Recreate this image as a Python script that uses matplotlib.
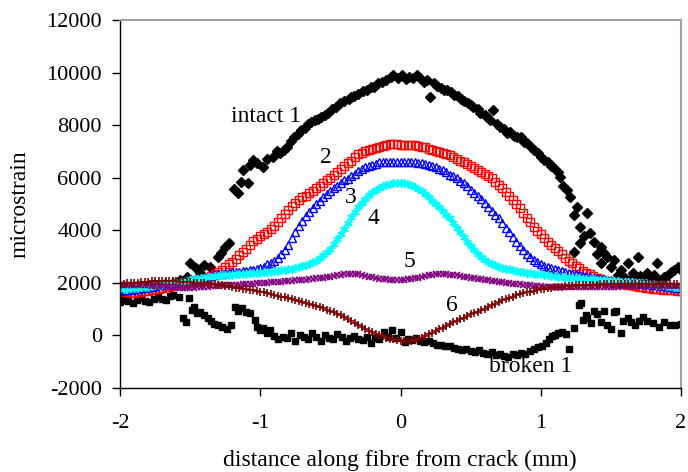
import matplotlib
matplotlib.use('Agg')
import matplotlib.pyplot as plt
import numpy as np

plt.rcParams['font.family'] = ['Liberation Serif', 'DejaVu Serif']
plt.rcParams['axes.unicode_minus'] = False

# distance grid of the smoothed runs (mm)
dist = [-2.000, -1.975, -1.950, -1.925, -1.900, -1.875, -1.850, -1.825, -1.800, -1.775,
        -1.750, -1.725, -1.700, -1.675, -1.650, -1.625, -1.600, -1.575, -1.550, -1.525,
        -1.500, -1.475, -1.450, -1.425, -1.400, -1.375, -1.350, -1.325, -1.300, -1.275,
        -1.250, -1.225, -1.200, -1.175, -1.150, -1.125, -1.100, -1.075, -1.050, -1.025,
        -1.000, -0.975, -0.950, -0.925, -0.900, -0.875, -0.850, -0.825, -0.800, -0.775,
        -0.750, -0.725, -0.700, -0.675, -0.650, -0.625, -0.600, -0.575, -0.550, -0.525,
        -0.500, -0.475, -0.450, -0.425, -0.400, -0.375, -0.350, -0.325, -0.300, -0.275,
        -0.250, -0.225, -0.200, -0.175, -0.150, -0.125, -0.100, -0.075, -0.050, -0.025,
        0.000, 0.025, 0.050, 0.075, 0.100, 0.125, 0.150, 0.175, 0.200, 0.225,
        0.250, 0.275, 0.300, 0.325, 0.350, 0.375, 0.400, 0.425, 0.450, 0.475,
        0.500, 0.525, 0.550, 0.575, 0.600, 0.625, 0.650, 0.675, 0.700, 0.725,
        0.750, 0.775, 0.800, 0.825, 0.850, 0.875, 0.900, 0.925, 0.950, 0.975,
        1.000, 1.025, 1.050, 1.075, 1.100, 1.125, 1.150, 1.175, 1.200, 1.225,
        1.250, 1.275, 1.300, 1.325, 1.350, 1.375, 1.400, 1.425, 1.450, 1.475,
        1.500, 1.525, 1.550, 1.575, 1.600, 1.625, 1.650, 1.675, 1.700, 1.725,
        1.750, 1.775, 1.800, 1.825, 1.850, 1.875, 1.900, 1.925, 1.950, 1.975, 2.000]

s2 = [1650, 1680, 1650, 1620, 1600, 1640, 1650, 1690, 1700, 1730,
      1750, 1770, 1800, 1830, 1850, 1880, 1900, 1930, 1950, 1980,
      2000, 2020, 2050, 2100, 2150, 2200, 2250, 2320, 2400, 2500,
      2600, 2700, 2800, 2920, 3050, 3180, 3300, 3450, 3580, 3680,
      3780, 3860, 3950, 4060, 4180, 4310, 4450, 4620, 4780, 4920,
      5050, 5150, 5250, 5320, 5400, 5500, 5600, 5700, 5800, 5900,
      6000, 6100, 6200, 6330, 6450, 6550, 6650, 6780, 6900, 6950,
      7000, 7050, 7100, 7140, 7180, 7220, 7250, 7280, 7300, 7270,
      7250, 7240, 7230, 7250, 7240, 7200, 7180, 7150, 7100, 7070,
      7030, 6990, 6950, 6900, 6850, 6780, 6700, 6640, 6580, 6520,
      6450, 6370, 6280, 6220, 6150, 6070, 5980, 5850, 5720, 5590,
      5450, 5300, 5150, 5000, 4850, 4670, 4480, 4300, 4130, 3990,
      3850, 3700, 3560, 3440, 3320, 3200, 3080, 2960, 2850, 2750,
      2650, 2550, 2450, 2380, 2320, 2260, 2200, 2160, 2120, 2080,
      2050, 2020, 2000, 1970, 1950, 1920, 1900, 1880, 1860, 1840,
      1820, 1800, 1780, 1770, 1760, 1740, 1730, 1720, 1710, 1700, 1700]

s3 = [1700, 1710, 1720, 1740, 1760, 1780, 1800, 1820, 1840, 1860,
      1880, 1900, 1920, 1940, 1960, 1980, 2000, 2030, 2050, 2080,
      2100, 2130, 2150, 2180, 2200, 2230, 2260, 2290, 2320, 2340,
      2360, 2380, 2400, 2420, 2430, 2450, 2460, 2480, 2500, 2520,
      2560, 2620, 2700, 2770, 2850, 2960, 3100, 3260, 3450, 3700,
      3950, 4160, 4350, 4530, 4700, 4850, 5000, 5130, 5250, 5380,
      5500, 5600, 5700, 5800, 5900, 5970, 6050, 6150, 6250, 6330,
      6400, 6450, 6500, 6540, 6580, 6590, 6600, 6610, 6600, 6610,
      6600, 6600, 6600, 6590, 6580, 6570, 6550, 6520, 6480, 6440,
      6400, 6340, 6280, 6200, 6120, 6050, 5980, 5890, 5800, 5680,
      5550, 5430, 5300, 5180, 5050, 4900, 4750, 4600, 4450, 4280,
      4100, 3920, 3750, 3570, 3400, 3250, 3100, 2990, 2880, 2790,
      2700, 2650, 2600, 2560, 2520, 2480, 2450, 2410, 2380, 2350,
      2320, 2290, 2270, 2250, 2230, 2200, 2180, 2160, 2140, 2120,
      2100, 2080, 2070, 2050, 2040, 2020, 2000, 1990, 1980, 1970,
      1960, 1940, 1930, 1910, 1900, 1880, 1870, 1850, 1840, 1820, 1800]

s4 = [1750, 1760, 1780, 1790, 1800, 1820, 1830, 1850, 1860, 1880,
      1900, 1910, 1930, 1950, 1960, 1980, 2000, 2030, 2050, 2080,
      2100, 2130, 2150, 2180, 2200, 2210, 2230, 2250, 2260, 2280,
      2290, 2300, 2310, 2320, 2330, 2340, 2350, 2360, 2370, 2380,
      2390, 2400, 2410, 2420, 2440, 2460, 2480, 2500, 2520, 2540,
      2570, 2600, 2640, 2680, 2730, 2790, 2850, 2940, 3050, 3170,
      3300, 3470, 3650, 3850, 4050, 4280, 4500, 4700, 4900, 5050,
      5200, 5330, 5450, 5540, 5620, 5680, 5730, 5760, 5780, 5790,
      5800, 5790, 5760, 5710, 5650, 5580, 5500, 5380, 5250, 5120,
      5000, 4880, 4750, 4600, 4450, 4280, 4100, 3920, 3750, 3570,
      3400, 3240, 3100, 2980, 2880, 2790, 2720, 2670, 2620, 2580,
      2540, 2510, 2480, 2450, 2430, 2410, 2390, 2370, 2350, 2330,
      2320, 2300, 2290, 2270, 2260, 2240, 2230, 2210, 2200, 2190,
      2180, 2170, 2160, 2150, 2140, 2130, 2120, 2110, 2100, 2090,
      2080, 2070, 2060, 2050, 2040, 2030, 2020, 2010, 2000, 1990,
      1980, 1960, 1950, 1930, 1920, 1900, 1890, 1870, 1860, 1840, 1830]

s5 = [1900, 1900, 1900, 1900, 1900, 1900, 1900, 1900, 1900, 1890,
      1880, 1880, 1870, 1860, 1850, 1840, 1830, 1820, 1820, 1820,
      1820, 1820, 1830, 1840, 1850, 1860, 1870, 1880, 1890, 1900,
      1900, 1910, 1920, 1930, 1930, 1940, 1950, 1960, 1970, 1980,
      1990, 2000, 2010, 2020, 2030, 2040, 2050, 2060, 2070, 2080,
      2090, 2100, 2110, 2120, 2140, 2150, 2170, 2180, 2200, 2220,
      2240, 2260, 2280, 2300, 2320, 2330, 2340, 2330, 2320, 2300,
      2270, 2240, 2210, 2180, 2160, 2140, 2130, 2120, 2110, 2110,
      2110, 2120, 2130, 2150, 2170, 2190, 2220, 2250, 2280, 2300,
      2320, 2330, 2330, 2320, 2310, 2300, 2280, 2260, 2240, 2220,
      2200, 2180, 2160, 2140, 2120, 2100, 2080, 2060, 2040, 2020,
      2000, 1980, 1970, 1950, 1940, 1920, 1910, 1900, 1890, 1880,
      1870, 1860, 1860, 1850, 1850, 1840, 1840, 1840, 1840, 1840,
      1840, 1840, 1840, 1840, 1840, 1850, 1850, 1850, 1850, 1860,
      1860, 1860, 1860, 1870, 1870, 1870, 1870, 1870, 1870, 1880,
      1880, 1880, 1880, 1880, 1880, 1880, 1880, 1880, 1880, 1880, 1880]

s6 = [1950, 1970, 1980, 1990, 2000, 2010, 2020, 2040, 2050, 2060,
      2070, 2080, 2080, 2080, 2080, 2070, 2060, 2050, 2040, 2030,
      2020, 2010, 2000, 1990, 1980, 1970, 1950, 1940, 1920, 1900,
      1880, 1870, 1850, 1820, 1800, 1780, 1760, 1740, 1720, 1700,
      1670, 1640, 1600, 1570, 1540, 1510, 1480, 1450, 1420, 1390,
      1350, 1320, 1280, 1240, 1200, 1160, 1120, 1080, 1030, 980,
      930, 880, 820, 760, 700, 630, 560, 480, 400, 320,
      250, 180, 120, 60, 0, -40, -80, -120, -150, -180,
      -200, -210, -220, -200, -180, -130, -80, -20, 50, 110,
      180, 240, 300, 370, 430, 500, 560, 620, 680, 740,
      800, 850, 900, 960, 1020, 1090, 1150, 1210, 1270, 1330,
      1380, 1430, 1480, 1530, 1570, 1610, 1640, 1670, 1700, 1730,
      1760, 1780, 1800, 1820, 1830, 1850, 1860, 1870, 1880, 1890,
      1900, 1900, 1910, 1920, 1920, 1930, 1930, 1940, 1940, 1950,
      1950, 1950, 1950, 1960, 1960, 1960, 1960, 1960, 1960, 1970,
      1970, 1970, 1970, 1970, 1970, 1970, 1970, 1970, 1970, 1970, 1970]

# intact 1 (scattered readings)
intact_x = [-1.98, -1.92, -1.86, -1.80, -1.74, -1.68, -1.62, -1.57, -1.52, -1.50,
            -1.46, -1.43, -1.40, -1.36, -1.33, -1.30, -1.28, -1.25, -1.22, -1.19,
            -1.16, -1.14, -1.12, -1.09, -1.07, -1.05, -1.02, -0.98, -0.95, -0.91,
            -0.88, -0.86, -0.83, -0.81, -0.78, -0.76, -0.73, -0.71, -0.68, -0.66,
            -0.64, -0.61, -0.59, -0.57, -0.54, -0.52, -0.49, -0.46, -0.43, -0.40,
            -0.37, -0.35, -0.33, -0.30, -0.27, -0.24, -0.21, -0.19, -0.16, -0.13,
            -0.10, -0.07, -0.05, -0.02, 0.01, 0.04, 0.06, 0.09, 0.12, 0.14,
            0.17, 0.19, 0.21, 0.24, 0.26, 0.29, 0.31, 0.33, 0.36, 0.38,
            0.41, 0.43, 0.45, 0.48, 0.50, 0.52, 0.55, 0.57, 0.60, 0.62,
            0.64, 0.66, 0.69, 0.71, 0.74, 0.76, 0.78, 0.81, 0.83, 0.86,
            0.88, 0.90, 0.93, 0.95, 0.98, 1.00, 1.02, 1.05, 1.07, 1.09,
            1.12, 1.14, 1.16, 1.19, 1.21, 1.24, 1.24, 1.26, 1.28, 1.28,
            1.31, 1.33, 1.35, 1.38, 1.40, 1.43, 1.43, 1.45, 1.47, 1.50,
            1.52, 1.55, 1.57, 1.60, 1.62, 1.64, 1.66, 1.69, 1.71, 1.74,
            1.76, 1.79, 1.81, 1.83, 1.86, 1.88, 1.91, 1.93, 1.95, 1.98, 2.00]
intact_y = [1750, 1800, 1850, 1850, 1900, 1950, 2000, 2110, 2220, 2740,
            2550, 2370, 2680, 2600, 2290, 3000, 3130, 3360, 3510, 5560,
            5410, 5830, 6290, 5790, 6500, 6670, 6560, 6410, 6700, 6790,
            7000, 6930, 7050, 7160, 7400, 7540, 7650, 7810, 7900, 8050,
            8110, 8200, 8250, 8300, 8400, 8450, 8600, 8700, 8830, 8900,
            8980, 9060, 9100, 9200, 9280, 9350, 9450, 9450, 9600, 9650,
            9710, 9850, 9900, 9800, 9900, 9750, 9840, 9780, 9900, 9800,
            9650, 9710, 9060, 9600, 9500, 9400, 9350, 9330, 9250, 9150,
            9100, 9010, 8900, 8850, 8750, 8700, 8600, 8450, 8400, 8300,
            8200, 8580, 8050, 7930, 7850, 7700, 7740, 7600, 7550, 7540,
            7350, 7310, 7150, 7050, 6930, 6800, 6670, 6600, 6450, 6410,
            6200, 6030, 5700, 5530, 5280, 4570, 3160, 4900, 4130, 3510,
            3800, 4650, 3890, 3560, 3100, 3370, 2740, 3150, 2980, 2600,
            2870, 2300, 2490, 2200, 2740, 2150, 2370, 2980, 2250, 2100,
            2370, 2200, 2290, 2740, 2100, 2220, 2300, 2400, 2490, 2600, 2500]

# broken 1 (scattered readings)
broken_x = [-2.00, -1.97, -1.94, -1.91, -1.88, -1.85, -1.82, -1.79, -1.76, -1.73,
            -1.70, -1.67, -1.64, -1.62, -1.58, -1.55, -1.53, -1.51, -1.49, -1.47,
            -1.45, -1.43, -1.40, -1.37, -1.35, -1.33, -1.30, -1.27, -1.24, -1.21,
            -1.18, -1.16, -1.13, -1.10, -1.07, -1.04, -1.02, -1.00, -0.98, -0.95,
            -0.93, -0.90, -0.87, -0.84, -0.81, -0.78, -0.75, -0.72, -0.69, -0.66,
            -0.63, -0.60, -0.57, -0.54, -0.51, -0.48, -0.45, -0.42, -0.39, -0.36,
            -0.33, -0.30, -0.27, -0.24, -0.21, -0.18, -0.15, -0.12, -0.09, -0.06,
            -0.03, 0.00, 0.03, 0.05, 0.08, 0.11, 0.14, 0.17, 0.20, 0.23,
            0.26, 0.29, 0.32, 0.35, 0.38, 0.41, 0.44, 0.47, 0.50, 0.53,
            0.56, 0.59, 0.62, 0.65, 0.68, 0.71, 0.74, 0.77, 0.80, 0.83,
            0.86, 0.89, 0.92, 0.95, 0.98, 1.01, 1.04, 1.06, 1.08, 1.10,
            1.12, 1.15, 1.18, 1.20, 1.24, 1.27, 1.29, 1.32, 1.30, 1.33,
            1.36, 1.38, 1.40, 1.43, 1.45, 1.47, 1.50, 1.52, 1.54, 1.57,
            1.59, 1.62, 1.64, 1.67, 1.70, 1.73, 1.76, 1.80, 1.84, 1.88,
            1.92, 1.96, 2.00]
broken_y = [1270, 1340, 1300, 1220, 1350, 1420, 1300, 1270, 1400, 1460,
            1380, 1340, 1500, 1540, 1450, 660, 510, 1420, 970, 1080,
            850, 900, 780, 660, 550, 450, 400, 320, 240, 400,
            1080, 930, 1040, 890, 850, 590, 320, 200, 280, 100,
            210, -20, -140, -60, -100, 90, -210, 15, -60, -140,
            90, -60, -210, 15, -100, -140, 50, -60, -210, -100,
            -20, -140, -170, -60, -290, -100, -140, 130, -50, 210,
            -100, 130, -250, -150, -180, -100, -210, -250, -200, -300,
            -350, -380, -420, -400, -460, -500, -560, -520, -600, -630,
            -560, -650, -700, -620, -750, -700, -780, -820, -700, -760,
            -650, -710, -600, -520, -450, -400, -300, -150, -20, 30,
            100, 130, 50, -500, 300, 1160, 1230, 770, 590, 660,
            470, 930, 810, 510, 930, 400, 240, 890, 930, 90,
            550, 660, 510, 400, 550, 700, 550, 460, 320, 500,
            400, 380, 430]

curve_style = [
    (s2, 's', '#FF0000', 5.3),
    (s3, '^', '#0000FF', 5.5),
    (s4, (6, 2, 0), '#00FFFF', 6.0),
    (s5, 'x', '#800080', 4.8),
    (s6, '+', '#800000', 6.0),
]

fig = plt.figure(figsize=(6.88, 4.72), dpi=100)
ax = fig.add_axes([120 / 688, 1 - 388 / 472, 561 / 688, 368 / 472])

ax.plot(intact_x, intact_y, 'D', color='black', ms=5.0, ls='none')
ax.plot(broken_x, broken_y, 's', color='black', ms=4.8, ls='none')
for vals, mk, col, size in curve_style:
    if mk in ('s', '^'):
        ax.plot(dist, vals, ls='none', marker=mk, ms=size, mfc='none', mec=col, mew=1.0)
    else:
        ax.plot(dist, vals, ls='none', marker=mk, ms=size, color=col, mew=1.2)

ax.set_xlim(-2, 2)
ax.set_ylim(-2000, 12000)
ax.set_xticks([-2, -1, 0, 1, 2])
ax.set_yticks(np.arange(-2000, 12001, 2000))
ax.tick_params(axis='both', direction='out', length=6, width=1, labelsize=16)
ax.tick_params(axis='x', pad=13)
ax.tick_params(axis='y', pad=7)

for side in ['top', 'right']:
    ax.spines[side].set_color('#A0A0A0')
    ax.spines[side].set_linewidth(1.5)
for side in ['left', 'bottom']:
    ax.spines[side].set_color('black')
    ax.spines[side].set_linewidth(1.0)

fig.text(400 / 688, 1 - 460 / 472, 'distance along fibre from crack (mm)',
         ha='center', va='center', fontsize=17)
fig.text(20 / 688, 1 - 204 / 472, 'microstrain', rotation=90,
         ha='center', va='center', fontsize=17)

labels = [('intact 1', -0.96, 8117), ('2', -0.53, 6546), ('3', -0.357, 5024),
          ('4', -0.195, 4237), ('5', 0.066, 2613), ('6', 0.365, 913),
          ('broken 1', 0.93, -1407)]
for txt, lx, ly in labels:
    ax.text(lx, ly, txt, ha='center', va='baseline', fontsize=17)

fig.savefig('out.png', dpi=100)
